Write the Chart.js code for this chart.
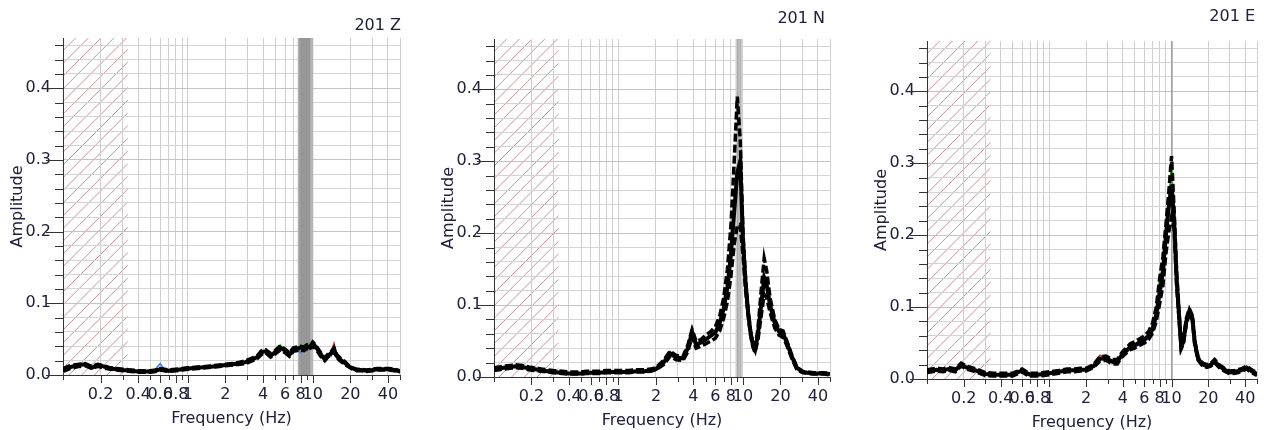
<!DOCTYPE html>
<html>
<head>
<meta charset="utf-8">
<script src="https://cdn.jsdelivr.net/npm/chart.js@4.4.1/dist/chart.umd.min.js"></script>
<style>
html, body { margin: 0; padding: 0; background: #fff; }
#wrap { position: relative; width: 1267px; height: 430px; overflow: hidden; }
canvas { position: absolute; top: 0; }
</style>
</head>
<body>
<div id="wrap">
  <canvas id="cz" width="410" height="430" style="left:0px"></canvas>
  <canvas id="cn" width="420" height="432" style="left:420px"></canvas>
  <canvas id="ce" width="427" height="434" style="left:840px"></canvas>
</div>
<script>
// frequency grid (Hz) shared by all curves
const freqs = [0.1,0.11,0.12,0.135,0.15, 0.17,0.19,0.21,0.24,0.27, 0.3,0.35,0.4,0.45,0.5,
  0.55,0.6,0.65,0.7,0.8, 0.9,1.0,1.2,1.4,1.6, 1.8,2.0,2.3,2.6,2.9, 3.3,3.6,3.9,4.2,4.6,
  5.0,5.5,6.0,6.5,7.0, 7.5,8.0,8.5,9.0,9.5, 10.0,10.5,11.0,11.5,12.0, 12.5,13.2,14.0,14.8,15.5,
  16.5,18.0,19.5,21.0,22.5, 24.5,27,30,33,37, 41,45,50];

// 201 Z
const zMean = [0.007,0.010,0.012,0.014,0.015, 0.010,0.014,0.012,0.009,0.008, 0.007,0.006,0.005,0.005,0.005,
  0.006,0.008,0.007,0.006,0.007, 0.008,0.009,0.010,0.011,0.012, 0.013,0.014,0.015,0.016,0.018,
  0.022,0.025,0.032,0.033,0.027, 0.031,0.038,0.034,0.028,0.036, 0.037,0.038,0.037,0.040,0.038,
  0.044,0.040,0.035,0.030,0.025, 0.022,0.027,0.030,0.036,0.027, 0.022,0.017,0.012,0.009,0.007,
  0.007,0.006,0.007,0.008,0.008, 0.008,0.007,0.005];
const zHigh = [0.009,0.012,0.014,0.015,0.016, 0.012,0.015,0.013,0.010,0.009, 0.008,0.007,0.006,0.006,0.006,
  0.007,0.009,0.008,0.007,0.008, 0.009,0.010,0.011,0.012,0.013, 0.014,0.015,0.016,0.018,0.020,
  0.024,0.027,0.034,0.035,0.030, 0.034,0.041,0.036,0.031,0.038, 0.039,0.040,0.039,0.042,0.040,
  0.046,0.042,0.037,0.032,0.027, 0.024,0.029,0.032,0.038,0.029, 0.024,0.019,0.013,0.010,0.008,
  0.008,0.007,0.008,0.009,0.009, 0.009,0.008,0.006];
const zLow = [0.005,0.008,0.010,0.012,0.013, 0.009,0.012,0.010,0.008,0.007, 0.006,0.005,0.004,0.004,0.004,
  0.005,0.007,0.006,0.005,0.006, 0.007,0.008,0.009,0.010,0.011, 0.012,0.013,0.014,0.015,0.016,
  0.020,0.023,0.029,0.031,0.025, 0.029,0.035,0.031,0.026,0.033, 0.034,0.035,0.034,0.037,0.035,
  0.041,0.037,0.032,0.027,0.023, 0.020,0.025,0.028,0.033,0.025, 0.020,0.015,0.011,0.008,0.006,
  0.006,0.005,0.006,0.007,0.007, 0.007,0.006,0.004];
const zRed = [0.006,0.010,0.013,0.016,0.013, 0.009,0.013,0.011,0.009,0.007, 0.007,0.006,0.005,0.005,0.005,
  0.006,0.007,0.007,0.006,0.007, 0.008,0.009,0.010,0.011,0.012, 0.013,0.014,0.015,0.016,0.018,
  0.022,0.025,0.032,0.033,0.027, 0.036,0.038,0.034,0.028,0.036, 0.037,0.038,0.037,0.040,0.038,
  0.044,0.040,0.035,0.030,0.025, 0.023,0.027,0.031,0.044,0.028, 0.022,0.017,0.012,0.009,0.007,
  0.007,0.006,0.007,0.008,0.008, 0.008,0.007,0.005];
const zGreen = [0.003,0.010,0.012,0.014,0.015, 0.010,0.014,0.012,0.009,0.008, 0.007,0.006,0.005,0.005,0.005,
  0.004,0.008,0.007,0.006,0.007, 0.008,0.009,0.010,0.011,0.012, 0.013,0.014,0.017,0.016,0.018,
  0.022,0.025,0.032,0.034,0.027, 0.031,0.042,0.034,0.028,0.036, 0.037,0.041,0.037,0.044,0.038,
  0.044,0.040,0.035,0.030,0.025, 0.022,0.028,0.030,0.036,0.027, 0.022,0.017,0.012,0.009,0.007,
  0.007,0.006,0.007,0.010,0.008, 0.008,0.007,0.005];
const zBlue = [0.006,0.010,0.012,0.014,0.015, 0.010,0.014,0.012,0.009,0.008, 0.007,0.006,0.005,0.005,0.005,
  0.008,0.016,0.007,0.004,0.007, 0.008,0.009,0.010,0.011,0.012, 0.013,0.012,0.015,0.016,0.017,
  0.022,0.025,0.031,0.032,0.026, 0.031,0.037,0.034,0.028,0.036, 0.036,0.031,0.037,0.040,0.038,
  0.044,0.040,0.035,0.030,0.025, 0.022,0.027,0.026,0.036,0.027, 0.022,0.017,0.012,0.009,0.007,
  0.007,0.006,0.007,0.008,0.008, 0.008,0.007,0.005];

// 201 N
const nMean = [0.011,0.012,0.013,0.014,0.015, 0.014,0.012,0.011,0.009,0.008, 0.007,0.006,0.005,0.005,0.005,
  0.006,0.006,0.006,0.006,0.007, 0.007,0.007,0.007,0.008,0.008, 0.009,0.011,0.020,0.033,0.027,
  0.026,0.040,0.062,0.045,0.048, 0.052,0.057,0.062,0.075,0.095, 0.125,0.170,0.230,0.285,0.300,
  0.190,0.130,0.090,0.062,0.045, 0.038,0.060,0.100,0.138,0.128, 0.100,0.075,0.063,0.060,0.048,
  0.030,0.013,0.007,0.006,0.005, 0.005,0.005,0.004];
const nHigh = [0.013,0.014,0.015,0.016,0.017, 0.016,0.014,0.013,0.011,0.010, 0.009,0.008,0.007,0.007,0.007,
  0.008,0.008,0.008,0.008,0.009, 0.009,0.009,0.009,0.010,0.010, 0.011,0.013,0.023,0.036,0.030,
  0.029,0.044,0.066,0.050,0.052, 0.058,0.063,0.070,0.085,0.110, 0.150,0.210,0.300,0.390,0.330,
  0.200,0.135,0.092,0.064,0.046, 0.040,0.068,0.120,0.165,0.148, 0.110,0.080,0.066,0.064,0.050,
  0.032,0.014,0.008,0.007,0.006, 0.006,0.006,0.005];
const nLow = [0.009,0.010,0.011,0.012,0.013, 0.012,0.010,0.009,0.008,0.007, 0.006,0.005,0.004,0.004,0.004,
  0.005,0.005,0.005,0.005,0.006, 0.006,0.006,0.006,0.007,0.007, 0.008,0.010,0.017,0.029,0.024,
  0.023,0.035,0.056,0.040,0.043, 0.046,0.050,0.054,0.064,0.082, 0.105,0.140,0.185,0.210,0.212,
  0.170,0.120,0.085,0.058,0.042, 0.034,0.052,0.085,0.115,0.110, 0.090,0.068,0.058,0.055,0.044,
  0.027,0.011,0.006,0.005,0.004, 0.004,0.004,0.003];

// 201 E
const eMean = [0.011,0.012,0.013,0.012,0.014, 0.012,0.020,0.016,0.013,0.010, 0.007,0.006,0.006,0.006,0.006,
  0.009,0.012,0.008,0.006,0.006, 0.007,0.008,0.010,0.012,0.012, 0.013,0.013,0.018,0.028,0.029,
  0.024,0.024,0.033,0.038,0.045, 0.047,0.051,0.055,0.060,0.070, 0.090,0.120,0.150,0.200,0.240,
  0.270,0.220,0.140,0.090,0.045, 0.052,0.080,0.095,0.085,0.050, 0.028,0.020,0.018,0.020,0.025,
  0.018,0.013,0.009,0.010,0.012, 0.016,0.011,0.007];
const eHigh = [0.013,0.014,0.015,0.014,0.016, 0.014,0.022,0.018,0.015,0.012, 0.009,0.008,0.008,0.008,0.008,
  0.011,0.014,0.010,0.008,0.008, 0.009,0.010,0.012,0.014,0.014, 0.015,0.015,0.020,0.031,0.032,
  0.027,0.027,0.036,0.042,0.049, 0.052,0.056,0.060,0.066,0.078, 0.100,0.140,0.170,0.215,0.260,
  0.310,0.235,0.150,0.095,0.048, 0.055,0.084,0.098,0.088,0.053, 0.030,0.022,0.020,0.022,0.027,
  0.020,0.015,0.011,0.012,0.014, 0.018,0.013,0.009];
const eLow = [0.009,0.010,0.011,0.010,0.012, 0.010,0.018,0.014,0.011,0.008, 0.005,0.004,0.004,0.004,0.004,
  0.007,0.010,0.006,0.004,0.004, 0.005,0.006,0.008,0.010,0.010, 0.011,0.011,0.016,0.025,0.026,
  0.021,0.021,0.030,0.035,0.041, 0.043,0.047,0.050,0.055,0.064, 0.080,0.105,0.130,0.175,0.205,
  0.225,0.210,0.130,0.085,0.042, 0.049,0.076,0.091,0.082,0.047, 0.026,0.018,0.016,0.018,0.023,
  0.016,0.011,0.007,0.008,0.010, 0.014,0.009,0.005];
const eRed = [0.011,0.012,0.013,0.012,0.014, 0.012,0.020,0.016,0.013,0.010, 0.008,0.006,0.006,0.006,0.006,
  0.009,0.012,0.008,0.006,0.006, 0.007,0.008,0.010,0.012,0.012, 0.013,0.013,0.018,0.033,0.029,
  0.024,0.024,0.033,0.038,0.045, 0.047,0.051,0.055,0.060,0.070, 0.090,0.120,0.150,0.215,0.240,
  0.270,0.220,0.140,0.090,0.045, 0.052,0.080,0.095,0.085,0.050, 0.028,0.020,0.018,0.020,0.025,
  0.018,0.013,0.009,0.010,0.012, 0.016,0.011,0.007];
const eGreen = [0.011,0.012,0.013,0.012,0.014, 0.012,0.020,0.016,0.013,0.010, 0.007,0.006,0.006,0.006,0.006,
  0.009,0.013,0.008,0.006,0.006, 0.007,0.008,0.010,0.012,0.012, 0.013,0.013,0.018,0.028,0.029,
  0.024,0.027,0.033,0.038,0.045, 0.047,0.053,0.055,0.062,0.072, 0.092,0.145,0.150,0.200,0.240,
  0.300,0.225,0.140,0.090,0.045, 0.052,0.080,0.096,0.085,0.050, 0.028,0.022,0.018,0.021,0.025,
  0.018,0.013,0.009,0.010,0.012, 0.016,0.011,0.007];
const eBlue = [0.011,0.012,0.013,0.012,0.014, 0.012,0.020,0.016,0.013,0.010, 0.007,0.006,0.006,0.006,0.006,
  0.009,0.012,0.008,0.006,0.006, 0.007,0.008,0.010,0.012,0.012, 0.013,0.013,0.017,0.027,0.027,
  0.022,0.021,0.031,0.035,0.042, 0.044,0.048,0.052,0.056,0.065, 0.082,0.110,0.140,0.190,0.230,
  0.250,0.215,0.140,0.090,0.045, 0.052,0.080,0.095,0.085,0.050, 0.027,0.019,0.018,0.020,0.025,
  0.018,0.013,0.009,0.010,0.012, 0.016,0.011,0.007];

// axis ticks
const xTicks = [0.1,0.2,0.3,0.4,0.5,0.6,0.7,0.8,0.9,1,2,3,4,5,6,7,8,9,10,20,30,40,50];
const xLabels = [0.2,0.4,0.6,0.8,1,2,4,6,8,10,20,40];
const yTicks = [0,0.02,0.04,0.06,0.08,0.1,0.12,0.14,0.16,0.18,0.2,0.22,0.24,0.26,0.28,0.3,
  0.32,0.34,0.36,0.38,0.4,0.42,0.44,0.46];
const yLabels = [0,0.1,0.2,0.3,0.4];
const hatchMax = 0.33;

const FONT = 'DejaVu Sans';
const TXT = '#20203a';

function pts(vals) { return freqs.map((f, i) => ({ x: f, y: vals[i] })); }
function isLab(list, v) { return list.some(l => Math.abs(l - v) < 1e-9); }

const hatchPlugin = {
  id: 'hatch',
  beforeDraw(chart) {
    const { ctx, chartArea: a, scales: { x } } = chart;
    const x0 = x.getPixelForValue(0.1), x1 = x.getPixelForValue(hatchMax);
    ctx.save();
    ctx.beginPath(); ctx.rect(x0, a.top, x1 - x0, a.bottom - a.top); ctx.clip();
    ctx.strokeStyle = 'rgba(190,125,140,0.85)'; ctx.lineWidth = 1;
    const h = a.bottom - a.top;
    for (let s = x0 - h; s < x1; s += 12.7) {
      ctx.beginPath(); ctx.moveTo(s, a.bottom); ctx.lineTo(s + h, a.top); ctx.stroke();
    }
    ctx.restore();
  }
};

const bandPlugin = {
  id: 'band',
  beforeDatasetsDraw(chart, args, opts) {
    const { ctx, chartArea: a, scales: { x } } = chart;
    ctx.save();
    (opts.bands || []).forEach(b => {
      const p0 = x.getPixelForValue(b[0]), p1 = x.getPixelForValue(b[1]);
      ctx.fillStyle = b[2];
      ctx.fillRect(p0, a.top, Math.max(p1 - p0, 1.5), a.bottom - a.top);
    });
    ctx.restore();
  }
};

const tickPlugin = {
  id: 'tickmarks',
  afterDraw(chart, args, opts) {
    const { ctx, chartArea: a, scales: { x, y } } = chart;
    ctx.save();
    ctx.strokeStyle = '#333'; ctx.lineWidth = 1;
    yTicks.forEach(v => {
      const py = Math.round(y.getPixelForValue(v)) + 0.5;
      const len = isLab(yLabels, v) ? 17 : 8;
      ctx.beginPath(); ctx.moveTo(a.left - len, py); ctx.lineTo(a.left, py); ctx.stroke();
    });
    xTicks.forEach(v => {
      const px = Math.round(x.getPixelForValue(v)) + 0.5;
      const len = isLab(xLabels, v) ? 8 : 5;
      ctx.beginPath(); ctx.moveTo(px, a.bottom); ctx.lineTo(px, a.bottom + len); ctx.stroke();
    });
    // panel name, top right
    ctx.fillStyle = TXT; ctx.font = '16px "' + FONT + '"';
    ctx.textAlign = 'right'; ctx.textBaseline = 'middle';
    ctx.fillText(opts.name, opts.nx, opts.ny);
    ctx.restore();
  }
};

function makeChart(id, cfg) {
  const black = (vals, dash) => ({
    data: pts(vals), borderColor: '#000', borderWidth: dash ? 3.5 : 4, borderDash: dash ? [8, 3] : [],
    borderJoinStyle: 'miter', pointRadius: 0, tension: 0
  });
  const thin = (vals, col) => ({
    data: pts(vals), borderColor: col, borderWidth: 1.5, pointRadius: 0, tension: 0
  });
  // Chart.js paints dataset 0 last, so the black curves go first to sit on top
  const datasets = [black(cfg.mean, false), black(cfg.high, true), black(cfg.low, true)];
  (cfg.colored || []).forEach(c => datasets.push(thin(c[0], c[1])));

  const W = cfg.w;
  return new Chart(document.getElementById(id), {
    type: 'line',
    data: { datasets },
    plugins: [hatchPlugin, bandPlugin, tickPlugin],
    options: {
      responsive: false, animation: false, devicePixelRatio: 1,
      layout: { padding: { left: cfg.left - 55, top: cfg.top, right: W - cfg.right, bottom: 0 } },
      plugins: {
        legend: { display: false }, tooltip: { enabled: false },
        band: { bands: cfg.bands },
        tickmarks: { name: cfg.name, nx: cfg.nx, ny: cfg.ny }
      },
      scales: {
        x: {
          type: 'logarithmic', min: 0.1, max: 50,
          afterBuildTicks: s => { s.ticks = xTicks.map(v => ({ value: v })); },
          afterFit: s => { s.height = 55; },
          grid: { color: '#cfcfcf', lineWidth: 1, drawTicks: false },
          border: { color: '#333', width: 1 },
          ticks: {
            autoSkip: false, maxRotation: 0, padding: 10, color: TXT,
            font: { family: FONT, size: 16 },
            callback: v => isLab(xLabels, v) ? String(v) : ''
          },
          title: { display: true, text: 'Frequency (Hz)', color: TXT,
            font: { family: FONT, size: 16 }, padding: { top: 0, bottom: 2 } }
        },
        y: {
          type: 'linear', min: 0, max: 0.47,
          afterBuildTicks: s => { s.ticks = yTicks.map(v => ({ value: v })); },
          afterFit: s => { s.width = 55; },
          grid: {
            drawTicks: false, lineWidth: 1,
            color: c => isLab(yLabels, c.tick.value) ? '#c4c4c4' : '#d4d4d4'
          },
          border: { color: '#333', width: 1 },
          ticks: {
            autoSkip: false, padding: 12, color: TXT, font: { family: FONT, size: 16 },
            callback: v => isLab(yLabels, v) ? v.toFixed(1) : ''
          },
          title: { display: true, text: 'Amplitude', color: TXT,
            font: { family: FONT, size: 16 }, padding: { top: 0, bottom: 0 } }
        }
      }
    }
  });
}

makeChart('cz', {
  w: 410, left: 63, right: 400, top: 38, name: '201 Z', nx: 401, ny: 26,
  mean: zMean, high: zHigh, low: zLow,
  colored: [[zBlue, '#2f7fe0'], [zGreen, '#22c020'], [zRed, '#e02020']],
  bands: [[7.58, 10.1, '#b5b5b5'], [7.8, 9.55, '#979797']]
});
makeChart('cn', {
  w: 420, left: 74, right: 412, top: 39, name: '201 N', nx: 405, ny: 19,
  mean: nMean, high: nHigh, low: nLow,
  colored: [],
  bands: [[8.7, 9.85, '#cfcfcf'], [8.95, 9.2, '#a8a8a8'], [9.35, 9.5, '#b0b0b0']]
});
makeChart('ce', {
  w: 427, left: 87, right: 425, top: 41, name: '201 E', nx: 415, ny: 17,
  mean: eMean, high: eHigh, low: eLow,
  colored: [[eBlue, '#2f7fe0'], [eGreen, '#22c020'], [eRed, '#e02020']],
  bands: [[9.93, 10.05, '#9a9a9a']]
});
</script>
</body>
</html>
